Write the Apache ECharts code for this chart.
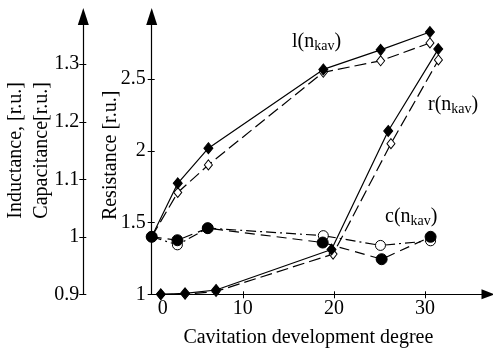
<!DOCTYPE html>
<html>
<head>
<meta charset="utf-8">
<script src="https://cdn.jsdelivr.net/npm/echarts@6/dist/echarts.min.js"></script>
<style>html,body{margin:0;padding:0;background:#fff;}#c{width:493px;height:354px;}</style>
</head>
<body>
<div id="c"></div>
<script>
// Data (x = cavitation development degree)
var lFilledX = [0, 2.86, 6.22, 18.83, 25.12, 30.53];
var lFilledY = [1.0, 1.093, 1.154, 1.291, 1.325, 1.356];
var lOpenX = [0, 2.86, 6.22, 18.83, 25.12, 30.53];
var lOpenY = [1.0, 1.077, 1.125, 1.286, 1.306, 1.337];
var rFilledX = [1.0, 3.66, 7.06, 19.73, 25.95, 31.44];
var rFilledY = [1.0, 1.007, 1.03, 1.312, 2.138, 2.709];
var rOpenX = [1.0, 3.66, 7.06, 19.9, 26.25, 31.46];
var rOpenY = [1.0, 1.0, 1.02, 1.28, 2.05, 2.633];
var cFilledX = [0, 2.82, 6.15, 18.76, 25.23, 30.6];
var cFilledY = [1.0, 0.994, 1.015, 0.990, 0.961, 1.0];
var cOpenX = [0, 2.82, 6.15, 18.83, 25.1, 30.6];
var cOpenY = [1.0, 0.986, 1.015, 1.002, 0.985, 0.993];
var xTicks = [0, 10, 20, 30];
var rTicks = [1, 1.5, 2, 2.5];
var lcTicks = [0.9, 1, 1.1, 1.2, 1.3];

function zip(xs, ys) { return xs.map(function (x, i) { return [x, ys[i]]; }); }

var FONT = 'Liberation Serif';
var black = '#000';
var chart = echarts.init(document.getElementById('c'), null, {renderer: 'canvas'});

function ser(name, xs, ys, yIdx, symbol, size, filled, dash) {
  return {
    name: name, type: 'line', data: zip(xs, ys), yAxisIndex: yIdx,
    symbol: symbol, symbolSize: size, showSymbol: true, animation: false,
    lineStyle: {color: black, width: 1.2, type: dash},
    itemStyle: {color: filled ? black : '#fff', borderColor: black, borderWidth: 1},
    emphasis: {disabled: true}
  };
}

var axisText = {fontFamily: FONT, fontSize: 20, color: black};
var R_MIN = 1, R_MAX = 2.936, LC_MIN = 0.9, LC_MAX = 1.383, X_MAX = 36.9;

function innerTickAxis(base) {
  return Object.assign({
    axisLine: {show: false, onZero: false}, axisLabel: {show: false}, splitLine: {show: false}
  }, base);
}

chart.setOption({
  animation: false,
  grid: {left: 151.7, right: 5, top: 16.5, bottom: 59.7, outerBoundsMode: 'none'},
  xAxis: [{
    type: 'value', min: 0, max: X_MAX, interval: 10,
    axisLine: {onZero: false, lineStyle: {color: black, width: 1.2}, symbol: ['none', 'triangle'], symbolSize: [10, 13]},
    axisTick: {show: true, customValues: [10, 20, 30], length: 4, lineStyle: {color: black}},
    axisLabel: Object.assign({
      customValues: xTicks, margin: 4,
      formatter: function (v) { return v === 0 ? '{z|0}' : String(v); },
      rich: {z: {fontFamily: FONT, fontSize: 20, color: black, padding: [0, 0, 0, 22]}}
    }, axisText),
    splitLine: {show: false},
    name: 'Cavitation development degree', nameLocation: 'middle', nameGap: 33, nameMoveOverlap: false,
    nameTextStyle: Object.assign({padding: [0, 23, 0, 0]}, axisText)
  }, innerTickAxis({
    type: 'value', min: 0, max: X_MAX, position: 'bottom',
    axisTick: {show: true, inside: true, customValues: [10, 20, 30], length: 3, lineStyle: {color: black}}
  })],
  yAxis: [{
    type: 'value', position: 'left', min: R_MIN, max: R_MAX,
    axisLine: {show: true, onZero: false, lineStyle: {color: black, width: 1.2}, symbol: ['none', 'triangle'], symbolSize: [11, 17]},
    axisTick: {show: true, customValues: rTicks, length: 4, lineStyle: {color: black}},
    axisLabel: Object.assign({customValues: rTicks, margin: 6, formatter: function (v) { return String(v); }}, axisText),
    splitLine: {show: false},
    name: 'Resistance [r.u.]', nameLocation: 'middle', nameGap: 31, nameRotate: 90, nameMoveOverlap: false,
    nameTextStyle: axisText
  }, {
    type: 'value', position: 'left', offset: 68.4, min: LC_MIN, max: LC_MAX,
    axisLine: {show: true, onZero: false, lineStyle: {color: black, width: 1.2}, symbol: ['none', 'triangle'], symbolSize: [11, 17]},
    axisTick: {show: true, customValues: lcTicks, length: 4, lineStyle: {color: black}},
    axisLabel: Object.assign({customValues: lcTicks, margin: 4, formatter: function (v) { return String(v); }}, axisText),
    splitLine: {show: false},
    name: 'Inductance, [r.u.]\nCapacitance[r.u.]', nameLocation: 'middle', nameGap: 29, nameRotate: 90, nameMoveOverlap: false,
    nameTextStyle: Object.assign({lineHeight: 26, padding: [0, 0, 0, 10]}, axisText)
  }, innerTickAxis({
    type: 'value', position: 'left', min: R_MIN, max: R_MAX,
    axisTick: {show: true, inside: true, customValues: rTicks, length: 3, lineStyle: {color: black}}
  }), innerTickAxis({
    type: 'value', position: 'left', offset: 68.4, min: LC_MIN, max: LC_MAX,
    axisTick: {show: true, inside: true, customValues: lcTicks, length: 3, lineStyle: {color: black}}
  })],
  series: [
    ser('l open', lOpenX, lOpenY, 1, 'diamond', [8, 10], false, [12, 5]),
    ser('l', lFilledX, lFilledY, 1, 'diamond', [9, 11], true, 'solid'),
    ser('r open', rOpenX, rOpenY, 0, 'diamond', [8, 10], false, [12, 5]),
    ser('r', rFilledX, rFilledY, 0, 'diamond', [9, 11], true, 'solid'),
    ser('c open', cOpenX, cOpenY, 1, 'circle', 10, false, [10, 4, 2, 4]),
    ser('c', cFilledX, cFilledY, 1, 'circle', 11, true, [10, 6])
  ],
  graphic: [
    {type: 'text', left: 292, top: 32, silent: true, style: {text: '{a|l(n}{s|kav}{a|)}', rich: {
      a: {fontFamily: FONT, fontSize: 20, fill: black}, s: {fontFamily: FONT, fontSize: 14, fill: black, padding: [9, 0, 0, 0]}}}},
    {type: 'text', left: 428, top: 95, silent: true, style: {text: '{a|r(n}{s|kav}{a|)}', rich: {
      a: {fontFamily: FONT, fontSize: 20, fill: black}, s: {fontFamily: FONT, fontSize: 14, fill: black, padding: [9, 0, 0, 0]}}}},
    {type: 'text', left: 385, top: 207, silent: true, style: {text: '{a|c(n}{s|kav}{a|)}', rich: {
      a: {fontFamily: FONT, fontSize: 20, fill: black}, s: {fontFamily: FONT, fontSize: 14, fill: black, padding: [9, 0, 0, 0]}}}}
  ]
});
</script>
</body>
</html>
